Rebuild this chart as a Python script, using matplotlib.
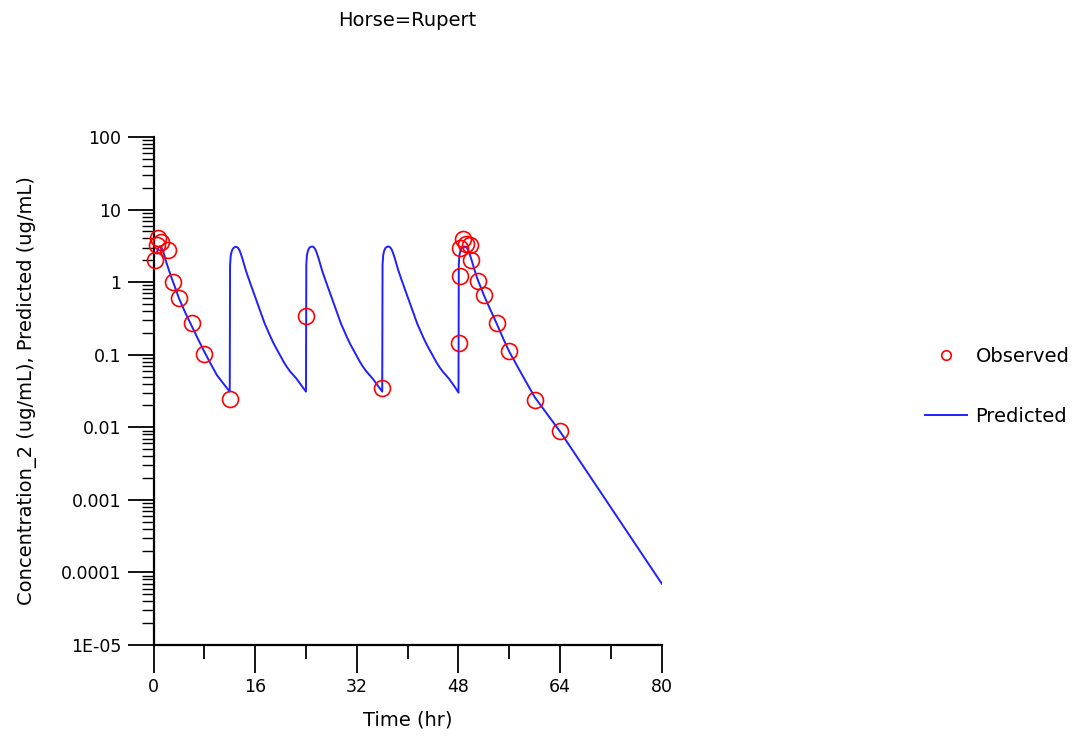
"""Horse=Rupert: observed vs predicted concentration, multiple dosing, log scale."""
import matplotlib
matplotlib.use("Agg")
import matplotlib.pyplot as plt
from matplotlib.ticker import FixedLocator, NullFormatter

# Observed concentrations (ug/mL) vs time (hr)
obs_time = [0.25, 0.5, 0.75, 1.25, 2.25, 3.0, 4.0, 6.0, 8.0, 12.0, 24.0, 36.0,
            48.08, 48.17, 48.25, 48.75, 49.25, 49.75, 50.0, 51.0, 52.0, 54.0,
            56.0, 60.0, 64.0]
obs_conc = [2.05, 3.2, 4.1, 3.6, 2.8, 1.0, 0.6, 0.27, 0.102, 0.0245, 0.34, 0.0345,
            0.144, 1.2, 2.95, 3.9, 3.4, 3.3, 2.05, 1.05, 0.66, 0.27,
            0.112, 0.0238, 0.0089]

# Model prediction (one row per dosing interval)
pred_time = [
    0.5, 0.75, 1.0, 1.25, 1.5, 2.0, 2.5, 3.0, 3.5, 4.0, 5.0, 6.0, 7.0, 8.0, 9.0, 10.0, 11.0, 12.0,
    12.05, 12.15, 12.3, 12.5, 12.75, 13.0, 13.25, 13.5, 13.75, 14.0, 14.5, 15.0, 15.5, 16.0,
    16.5, 17.0, 17.5, 18.0, 18.5, 19.0, 19.5, 20.0, 20.5, 21.0, 21.5, 22.0, 22.5, 23.0, 23.5, 24.0,
    24.05, 24.15, 24.3, 24.5, 24.75, 25.0, 25.25, 25.5, 25.75, 26.0, 26.5, 27.0, 27.5, 28.0,
    28.5, 29.0, 29.5, 30.0, 30.5, 31.0, 31.5, 32.0, 32.5, 33.0, 33.5, 34.0, 34.5, 35.0, 35.5, 36.0,
    36.05, 36.15, 36.3, 36.5, 36.75, 37.0, 37.25, 37.5, 37.75, 38.0, 38.5, 39.0, 39.5, 40.0,
    40.5, 41.0, 41.5, 42.0, 42.5, 43.0, 43.5, 44.0, 44.5, 45.0, 45.5, 46.0, 46.5, 47.0, 47.5, 48.0,
    48.05, 48.15, 48.3, 48.5, 48.75, 49.0, 49.25, 49.5, 49.75, 50.0, 50.5, 51.0, 51.5, 52.0,
    53.0, 54.0, 55.0, 56.0, 58.0, 60.0, 62.0, 64.0, 80.0,
]
pred_conc = [
    2.5, 2.95, 3.1, 3.0, 2.7, 1.9, 1.4, 1.05, 0.8, 0.6, 0.38, 0.25, 0.165, 0.11, 0.075, 0.052, 0.04, 0.031,
    1.7, 2.3, 2.65, 2.9, 3.03, 3.07, 3.0, 2.8, 2.45, 2.1, 1.48, 1.1, 0.83, 0.63,
    0.468, 0.355, 0.269, 0.214, 0.17, 0.138, 0.115, 0.0955, 0.0794, 0.0676, 0.0589, 0.0525, 0.0468, 0.0407, 0.0355, 0.031,
    1.75, 2.35, 2.7, 2.95, 3.07, 3.1, 3.02, 2.8, 2.45, 2.1, 1.48, 1.1, 0.83, 0.63,
    0.468, 0.355, 0.269, 0.214, 0.17, 0.138, 0.115, 0.0955, 0.0794, 0.0676, 0.0589, 0.0525, 0.0468, 0.0407, 0.0355, 0.031,
    1.75, 2.35, 2.7, 2.95, 3.07, 3.1, 3.02, 2.8, 2.45, 2.1, 1.48, 1.1, 0.83, 0.63,
    0.468, 0.355, 0.269, 0.214, 0.17, 0.138, 0.115, 0.0955, 0.0794, 0.0676, 0.0589, 0.0525, 0.0468, 0.0407, 0.0352, 0.030,
    1.75, 2.35, 2.7, 2.95, 3.07, 3.1, 3.02, 2.8, 2.45, 2.1, 1.5, 1.1, 0.85, 0.66,
    0.42, 0.27, 0.17, 0.11, 0.053, 0.026, 0.015, 0.0087, 7.0e-5,
]

y_ticks = [1e-5, 1e-4, 1e-3, 1e-2, 1e-1, 1, 10, 100]
y_labels = ["1E-05", "0.0001", "0.001", "0.01", "0.1", "1", "10", "100"]
x_ticks = [0, 16, 32, 48, 64, 80]
x_minor = [8, 24, 40, 56, 72]

W, H = 1089, 741
fig = plt.figure(figsize=(W / 100, H / 100), dpi=100)
ax = fig.add_axes([153.5 / W, 1 - 645 / H, (661.8 - 153.5) / W, (645 - 137) / H])

ax.plot(pred_time, pred_conc, color="#2020ff", lw=1.4, label="Predicted", zorder=2)
ax.plot(obs_time, obs_conc, ls="none", marker="o", ms=11.5, mfc="none", mec="#ff0000",
        mew=1.2, label="Observed", zorder=3, clip_on=False)

ax.set_yscale("log")
ax.set_xlim(0, 80)
ax.set_ylim(1e-5, 100)

ax.set_yticks(y_ticks)
ax.set_yticklabels(y_labels)
minors = [m * 10.0 ** e for e in range(-5, 2) for m in range(2, 10)]
ax.yaxis.set_minor_locator(FixedLocator(minors))
ax.yaxis.set_minor_formatter(NullFormatter())
ax.set_xticks(x_ticks)
ax.set_xticks(x_minor, minor=True)

for s in ["top", "right"]:
    ax.spines[s].set_visible(False)
for s in ["left", "bottom"]:
    ax.spines[s].set_linewidth(1.6)

ax.tick_params(axis="y", which="major", length=19, width=1.3, pad=4, labelsize=12.5)
ax.tick_params(axis="y", which="minor", length=9, width=1.0)
ax.tick_params(axis="x", which="major", length=20, width=1.3, pad=4, labelsize=12.5)
ax.tick_params(axis="x", which="minor", length=10, width=1.3)

ax.set_xlabel("Time (hr)", fontsize=14, labelpad=10)
ax.set_ylabel("Concentration_2 (ug/mL), Predicted (ug/mL)", fontsize=14, labelpad=17)
fig.text((153.5 + 661.8) / 2 / W, 1 - 20 / H, "Horse=Rupert", fontsize=14,
         ha="center", va="center")

handles, labels = ax.get_legend_handles_labels()
fig.legend(handles[::-1], labels[::-1], loc="center left",
           bbox_to_anchor=(925 / W, 1 - 386.5 / H), frameon=False, fontsize=14,
           handlelength=2.15, handletextpad=0.45, labelspacing=2.1,
           borderpad=0, borderaxespad=0, markerscale=0.6)

fig.savefig("out.png", dpi=100)
